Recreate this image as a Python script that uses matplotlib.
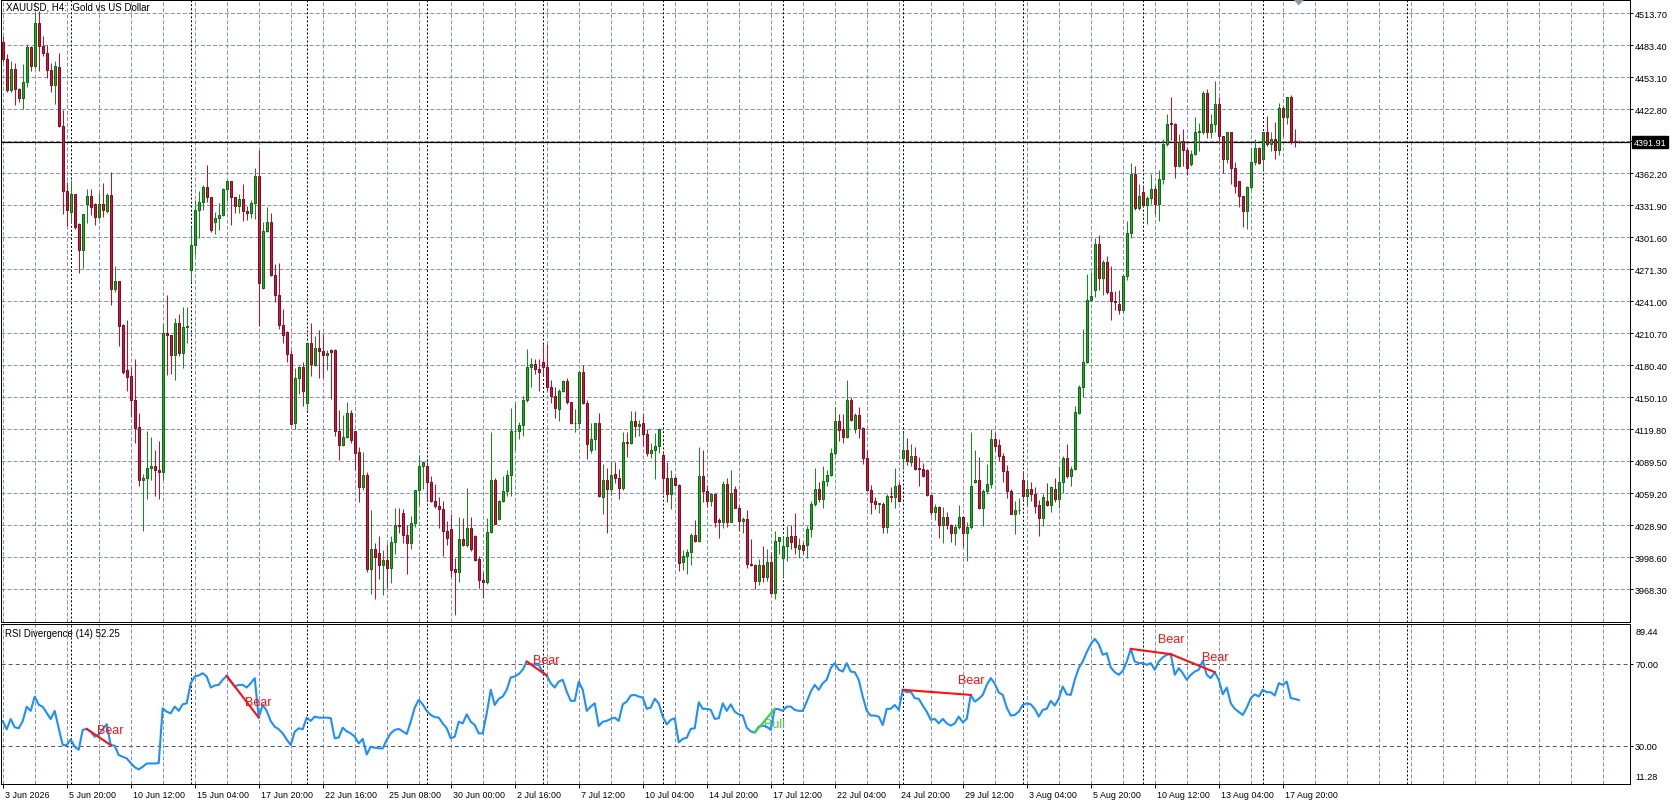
import numpy as np
import matplotlib
matplotlib.use("Agg")
import matplotlib.pyplot as plt
from matplotlib.transforms import blended_transform_factory

# XAUUSD H4 candles, bar 0 = 3 Jun 2026 04:00 ... last bar = 18 Aug 12:00
opens = [
    4487, 4471, 4441, 4461, 4442, 4434, 4449, 4482, 4464, 4505,
    4483, 4476, 4460, 4446, 4463, 4407, 4346, 4326, 4343, 4314,
    4290, 4333, 4341, 4333, 4321, 4333, 4327, 4342, 4253, 4260,
    4219, 4176, 4170, 4148, 4122, 4072, 4074, 4083, 4085, 4081,
    4079, 4211, 4209, 4190, 4221, 4192, 4217, 4271, 4294, 4328,
    4335, 4349, 4340, 4316, 4320, 4323, 4347, 4355, 4340, 4331,
    4338, 4327, 4325, 4334, 4360, 4254, 4308, 4316, 4266, 4247,
    4219, 4212, 4191, 4126, 4168, 4179, 4145, 4202, 4181, 4197,
    4194, 4190, 4195, 4195, 4118, 4105, 4113, 4135, 4118, 4098,
    4065, 4077, 3988, 4007, 4003, 3991, 3996, 3989, 4013, 4029,
    4041, 4020, 4012, 4031, 4062, 4085, 4085, 4070, 4052, 4047,
    4044, 4024, 4025, 3988, 3985, 4016, 4010, 4026, 4019, 3997,
    3977, 3975, 4023, 4072, 4035, 4052, 4061, 4077, 4118, 4118,
    4124, 4148, 4179, 4182, 4177, 4184, 4179, 4160, 4151, 4139,
    4156, 4166, 4146, 4126, 4126, 4174, 4145, 4100, 4111, 4126,
    4056, 4072, 4063, 4078, 4074, 4064, 4108, 4107, 4128, 4123,
    4126, 4115, 4097, 4100, 4104, 4096, 4074, 4059, 4074, 4067,
    3994, 4000, 4004, 4020, 4014, 4076, 4061, 4052, 4059, 4034,
    4032, 4068, 4032, 4063, 4045, 4033, 4035, 3992, 3991, 3976,
    3991, 3980, 3994, 3965, 4014, 3998, 4009, 4019, 4019, 4007,
    4010, 4010, 4025, 4049, 4063, 4054, 4071, 4077, 4097, 4128,
    4120, 4113, 4148, 4120, 4133, 4121, 4093, 4062, 4052, 4049,
    4049, 4027, 4057, 4056, 4067, 4093, 4100, 4089, 4095, 4083,
    4082, 4081, 4058, 4042, 4046, 4029, 4037, 4029, 4022, 4027,
    4037, 4022, 4027, 4070, 4072, 4045, 4061, 4068, 4111, 4105,
    4095, 4080, 4061, 4040, 4043, 4072, 4057, 4063, 4059, 4048,
    4036, 4052, 4048, 4063, 4054, 4070, 4093, 4076, 4082, 4135,
    4160, 4184, 4242, 4252, 4295, 4263, 4278, 4250, 4241, 4239,
    4233, 4265, 4306, 4362, 4329, 4345, 4332, 4339, 4347, 4333,
    4357, 4390, 4410, 4409, 4369, 4393, 4384, 4371, 4381, 4401,
    4401, 4438, 4401, 4409, 4428, 4398, 4376, 4401, 4367, 4355,
    4341, 4327, 4349, 4373, 4386, 4376, 4401, 4390, 4395, 4384,
    4424, 4416, 4435, 4393, 4392,
]
highs = [
    4492, 4475, 4469, 4467, 4443, 4466, 4485, 4483, 4515, 4516,
    4492, 4484, 4467, 4469, 4476, 4422, 4354, 4356, 4343, 4315,
    4324, 4347, 4347, 4334, 4344, 4353, 4344, 4364, 4275, 4260,
    4220, 4223, 4179, 4186, 4135, 4078, 4118, 4113, 4100, 4109,
    4220, 4247, 4209, 4225, 4229, 4236, 4236, 4311, 4337, 4346,
    4351, 4370, 4340, 4326, 4334, 4348, 4356, 4355, 4340, 4343,
    4352, 4331, 4337, 4367, 4384, 4316, 4330, 4325, 4276, 4277,
    4234, 4213, 4195, 4178, 4180, 4184, 4202, 4221, 4208, 4214,
    4210, 4195, 4196, 4196, 4138, 4133, 4146, 4138, 4118, 4103,
    4098, 4079, 4043, 4012, 4019, 4006, 4011, 4019, 4045, 4045,
    4044, 4029, 4038, 4062, 4096, 4090, 4089, 4076, 4068, 4056,
    4052, 4033, 4040, 3998, 4037, 4036, 4064, 4037, 4020, 4000,
    3985, 4036, 4117, 4074, 4053, 4076, 4081, 4140, 4145, 4127,
    4151, 4196, 4187, 4186, 4186, 4201, 4201, 4167, 4160, 4158,
    4167, 4168, 4146, 4139, 4176, 4181, 4148, 4126, 4126, 4135,
    4087, 4083, 4090, 4089, 4082, 4117, 4117, 4137, 4137, 4129,
    4134, 4120, 4107, 4116, 4121, 4097, 4089, 4081, 4076, 4068,
    4006, 4007, 4022, 4034, 4103, 4100, 4067, 4060, 4060, 4036,
    4071, 4074, 4081, 4066, 4048, 4037, 4043, 4016, 3992, 3997,
    4009, 4007, 4004, 4024, 4018, 4019, 4028, 4029, 4041, 4017,
    4013, 4028, 4052, 4083, 4070, 4085, 4081, 4102, 4141, 4134,
    4134, 4167, 4150, 4135, 4141, 4122, 4100, 4067, 4056, 4050,
    4051, 4059, 4065, 4083, 4070, 4117, 4112, 4106, 4103, 4094,
    4088, 4082, 4058, 4049, 4047, 4046, 4042, 4030, 4030, 4048,
    4038, 4032, 4117, 4100, 4094, 4063, 4087, 4120, 4117, 4111,
    4097, 4086, 4063, 4052, 4055, 4080, 4072, 4070, 4065, 4053,
    4059, 4069, 4066, 4074, 4085, 4095, 4106, 4085, 4142, 4162,
    4215, 4267, 4269, 4301, 4304, 4280, 4284, 4275, 4251, 4252,
    4267, 4317, 4372, 4369, 4352, 4350, 4341, 4362, 4351, 4365,
    4395, 4418, 4435, 4410, 4400, 4404, 4387, 4384, 4416, 4410,
    4440, 4442, 4418, 4450, 4435, 4398, 4401, 4401, 4373, 4355,
    4341, 4350, 4386, 4395, 4387, 4401, 4417, 4401, 4411, 4429,
    4426, 4435, 4436, 4404, 4394,
]
lows = [
    4468, 4439, 4439, 4427, 4430, 4423, 4444, 4459, 4462, 4459,
    4473, 4453, 4439, 4428, 4406, 4324, 4312, 4315, 4310, 4268,
    4273, 4315, 4323, 4313, 4319, 4321, 4325, 4238, 4250, 4199,
    4172, 4156, 4132, 4107, 4066, 4024, 4054, 4072, 4057, 4054,
    4072, 4171, 4172, 4167, 4189, 4178, 4202, 4259, 4285, 4301,
    4328, 4335, 4307, 4305, 4309, 4322, 4336, 4313, 4325, 4325,
    4317, 4318, 4320, 4319, 4218, 4253, 4307, 4265, 4240, 4215,
    4202, 4184, 4125, 4120, 4153, 4142, 4137, 4170, 4180, 4168,
    4168, 4176, 4149, 4114, 4091, 4104, 4112, 4107, 4081, 4051,
    4062, 3985, 3964, 3959, 3978, 3963, 3970, 3974, 4002, 4022,
    4012, 3983, 4007, 4027, 4048, 4063, 4053, 4051, 4045, 4026,
    4000, 4010, 3980, 3944, 3975, 4009, 4008, 4005, 3995, 3970,
    3960, 3973, 4022, 4030, 4034, 4051, 4057, 4057, 4100, 4111,
    4114, 4146, 4160, 4172, 4156, 4171, 4156, 4145, 4131, 4128,
    4155, 4144, 4125, 4117, 4121, 4144, 4092, 4097, 4100, 4056,
    4040, 4022, 4058, 4069, 4054, 4062, 4094, 4106, 4113, 4114,
    4104, 4095, 4093, 4073, 4097, 4059, 4051, 4044, 4067, 3986,
    3987, 3983, 3991, 4013, 4013, 4051, 4046, 4047, 4027, 4017,
    4026, 4027, 4032, 4045, 4024, 4022, 3989, 3990, 3969, 3972,
    3975, 3976, 3964, 3959, 4002, 3980, 3995, 4007, 4002, 3998,
    4002, 3998, 4018, 4047, 4051, 4045, 4066, 4076, 4096, 4109,
    4107, 4112, 4128, 4116, 4112, 4087, 4061, 4040, 4044, 4041,
    4022, 4022, 4051, 4045, 4051, 4082, 4086, 4085, 4081, 4066,
    4075, 4057, 4039, 4034, 4017, 4012, 4025, 4013, 4010, 4025,
    4008, 3995, 4025, 4069, 4044, 4028, 4059, 4064, 4099, 4090,
    4070, 4055, 4040, 4021, 4040, 4054, 4047, 4052, 4041, 4019,
    4028, 4047, 4042, 4051, 4045, 4060, 4074, 4066, 4081, 4134,
    4150, 4183, 4241, 4245, 4252, 4247, 4248, 4223, 4233, 4229,
    4230, 4261, 4301, 4328, 4328, 4330, 4314, 4333, 4324, 4317,
    4352, 4388, 4394, 4358, 4368, 4369, 4361, 4369, 4380, 4383,
    4400, 4396, 4396, 4401, 4391, 4363, 4372, 4352, 4344, 4330,
    4311, 4310, 4347, 4370, 4371, 4365, 4388, 4383, 4376, 4380,
    4398, 4409, 4390, 4387, 4391,
]
closes = [
    4471, 4441, 4461, 4442, 4434, 4449, 4482, 4464, 4505, 4483,
    4476, 4460, 4446, 4464, 4407, 4346, 4328, 4343, 4311, 4290,
    4324, 4341, 4330, 4321, 4333, 4328, 4342, 4253, 4260, 4218,
    4174, 4169, 4148, 4121, 4072, 4074, 4083, 4085, 4081, 4079,
    4211, 4209, 4190, 4221, 4192, 4217, 4218, 4294, 4328, 4335,
    4349, 4340, 4309, 4320, 4323, 4347, 4355, 4340, 4331, 4338,
    4327, 4325, 4334, 4360, 4258, 4308, 4316, 4266, 4247, 4219,
    4209, 4191, 4125, 4168, 4179, 4156, 4202, 4182, 4197, 4194,
    4190, 4192, 4193, 4118, 4105, 4113, 4135, 4110, 4097, 4065,
    4077, 3988, 4007, 3999, 3991, 3996, 3989, 4013, 4029, 4028,
    4020, 4012, 4031, 4062, 4085, 4089, 4070, 4052, 4047, 4044,
    4024, 4017, 3987, 3985, 4016, 4010, 4026, 4007, 3996, 3977,
    3975, 4023, 4072, 4030, 4052, 4061, 4077, 4118, 4118, 4124,
    4148, 4179, 4182, 4177, 4174, 4179, 4160, 4151, 4140, 4156,
    4166, 4146, 4126, 4126, 4174, 4145, 4106, 4111, 4126, 4057,
    4072, 4063, 4077, 4074, 4064, 4108, 4107, 4128, 4123, 4125,
    4115, 4097, 4100, 4104, 4120, 4074, 4059, 4074, 4067, 3993,
    4000, 4004, 4020, 4014, 4076, 4061, 4052, 4059, 4032, 4032,
    4068, 4032, 4060, 4045, 4033, 4035, 3992, 3991, 3976, 3991,
    3980, 3994, 3965, 4014, 4018, 4009, 4018, 4013, 4008, 4010,
    4006, 4025, 4049, 4063, 4054, 4071, 4077, 4097, 4128, 4119,
    4113, 4148, 4129, 4133, 4121, 4093, 4062, 4051, 4049, 4050,
    4027, 4057, 4056, 4066, 4052, 4100, 4090, 4095, 4082, 4082,
    4076, 4058, 4042, 4046, 4029, 4037, 4029, 4022, 4027, 4037,
    4022, 4027, 4066, 4072, 4045, 4061, 4068, 4111, 4104, 4095,
    4080, 4061, 4040, 4043, 4043, 4057, 4063, 4059, 4047, 4036,
    4056, 4048, 4065, 4054, 4070, 4093, 4076, 4082, 4136, 4160,
    4184, 4242, 4246, 4295, 4263, 4278, 4250, 4241, 4240, 4233,
    4265, 4306, 4362, 4329, 4341, 4332, 4339, 4347, 4333, 4357,
    4390, 4409, 4409, 4369, 4392, 4384, 4367, 4381, 4401, 4402,
    4438, 4401, 4409, 4428, 4398, 4376, 4401, 4367, 4350, 4341,
    4327, 4349, 4373, 4386, 4372, 4401, 4390, 4395, 4384, 4424,
    4416, 4435, 4392, 4392, 4391.91,
]

# RSI(14), one value per bar
rsi = [
    42, 38, 43, 39, 38.5, 42, 49, 47, 54, 50,
    49, 46, 43, 47, 38.5, 30.3, 30.3, 33, 29.5, 28,
    37.7, 38.2, 36.8, 34.4, 35.5, 38, 40.5, 30.3, 30, 25.4,
    24.6, 23.8, 21.5, 19.5, 18.4, 19.7, 21.3, 21.3, 21.3, 21.5,
    48.3, 46.6, 45.8, 49.1, 47, 50.2, 50.7, 60.5, 63.8, 64.3,
    65.4, 63.8, 58.4, 59.4, 59.7, 62.2, 64.1, 61.3, 58.9, 59.7,
    59.7, 58.4, 60.5, 63, 43.7, 50, 47, 42, 39.3, 38,
    36, 33, 30.3, 36.8, 38.5, 38, 43.7, 42.1, 44.2, 43.7,
    43.7, 43.7, 43.5, 33.6, 34, 38.8, 37, 36, 34.4, 31.1,
    33.3, 25.7, 29.5, 29, 28.7, 28.7, 32.8, 36, 37.7, 38.2,
    37, 35.7, 41.7, 48.6, 52.4, 50.2, 47, 45, 44, 43.7,
    40.9, 38.5, 33.6, 34.4, 41.7, 40.9, 45.3, 41.7, 40.1, 36,
    36, 45.8, 57.3, 49.9, 52.9, 54, 57.3, 63.3, 63.8, 65,
    67.1, 71.1, 69.8, 69.6, 69.5, 65.9, 64.3, 60.5, 58.4, 61.3,
    62.2, 56.4, 51.9, 51.9, 61.3, 57.3, 47, 49.1, 50.7, 39.6,
    41.7, 42.1, 43.1, 43.7, 42.1, 50.2, 51.5, 54.5, 54.8, 54,
    53.5, 48, 48.6, 52.9, 50.7, 44.2, 40.4, 42.6, 43.4, 31.6,
    33.3, 33.9, 38.2, 38.5, 51.2, 48, 48, 47.5, 43.1, 43.4,
    50.7, 47, 50.2, 46.6, 45.3, 44.7, 38.8, 37, 36.4, 39.3,
    39.8, 39.3, 37.7, 48, 47.8, 47, 49.1, 49.1, 47.5, 47,
    47, 51.5, 56.4, 59.7, 57.3, 60.5, 62.2, 67.9, 70.3, 67.1,
    66.2, 70.3, 66.2, 65.9, 62.2, 54, 47, 44.7, 44.7, 44.2,
    40.1, 48, 48, 49.9, 47.5, 57.3, 56.1, 56.4, 53.2, 52.9,
    49.6, 46.6, 42.6, 43.1, 40.9, 43.1, 40.9, 39.8, 40.9, 44.2,
    41.4, 43.1, 54.8, 51.5, 52.9, 54.8, 59.7, 63, 60.3, 56,
    54.8, 48.6, 44.7, 45, 46.6, 49.9, 50.7, 50.2, 48, 44.2,
    47.5, 48, 51.9, 49.6, 52.9, 58.9, 55.1, 54.8, 62.2, 67.9,
    71.1, 75.7, 79.6, 82.2, 79.6, 74.4, 75.2, 68.2, 65.9, 64.6,
    66.6, 71.1, 77.3, 71.1, 70.3, 70.3, 69.5, 70.3, 67.1, 71.1,
    73.1, 74.4, 74.7, 64.6, 67.9, 65.4, 62.2, 64.6, 66.2, 67.1,
    71.5, 64.6, 63, 65.9, 62.2, 55.1, 58.4, 50.7, 48, 46.5,
    45, 48.6, 53.2, 55.1, 54, 57.3, 56.1, 56.1, 54.5, 60.5,
    59.7, 61.3, 53.2, 52.9, 52.25,
]

last_price = 4391.91

# divergences drawn by the indicator (start bar, end bar)
div_kind = ['Bear', 'Bear', 'Bear', 'Bull', 'Bear', 'Bear', 'Bear']
div_from = [21, 56, 131, 188, 225, 282, 292]
div_to = [27, 64, 136, 193, 242, 292, 303]

# Monday 00:00 bars (period separators), last one sits in the empty right margin
week_starts = [17, 47, 76, 106, 135, 165, 195, 225, 255, 285, 315, 351]

# one time label every 16 bars
time_labels = ['3 Jun 2026', '5 Jun 20:00', '10 Jun 12:00', '15 Jun 04:00',
               '17 Jun 20:00', '22 Jun 16:00', '25 Jun 08:00', '30 Jun 00:00',
               '2 Jul 16:00', '7 Jul 12:00', '10 Jul 04:00', '14 Jul 20:00',
               '17 Jul 12:00', '22 Jul 04:00', '24 Jul 20:00', '29 Jul 12:00',
               '3 Aug 04:00', '5 Aug 20:00', '10 Aug 12:00', '13 Aug 04:00',
               '17 Aug 20:00']

price_levels = [4513.70, 4483.40, 4453.10, 4422.80, 4392.50, 4362.20, 4331.90,
                4301.60, 4271.30, 4241.00, 4210.70, 4180.40, 4150.10, 4119.80,
                4089.50, 4059.20, 4028.90, 3998.60, 3968.30]

plt.rcParams['font.family'] = ['Liberation Sans', 'DejaVu Sans']
plt.rcParams['lines.scale_dashes'] = False

W, H = 1676, 803
PX = 0.72  # one pixel in points

fig = plt.figure(figsize=(W / 100, H / 100), dpi=100)
ax = fig.add_axes([1 / W, 180 / H, 1629 / W, 622.5 / H])
ax2 = fig.add_axes([1 / W, 18 / H, 1629 / W, 160 / H])

o = np.array(opens, float)
h = np.array(highs, float)
l = np.array(lows, float)
c = np.array(closes, float)
r = np.array(rsi, float)
x = np.arange(len(c))

grid_c = '#8797ad'
grid_ls = (0, (2.9, 1.45))
sep_ls = (0, (1.45, 1.45))
ylo, yhi = 3937.4, 4526.9

for a in (ax, ax2):
    a.set_xlim(-0.425, 406.8)
    for b in range(0, 401, 8):
        a.axvline(b, color=grid_c, lw=PX, ls=grid_ls, zorder=0.5)
    for b in week_starts:
        a.axvline(b, color='black', lw=PX, ls=sep_ls, zorder=0.6)
    for s in a.spines.values():
        s.set_linewidth(PX)
        s.set_color('black')

# main price panel
ax.set_ylim(ylo, yhi)
for p in price_levels:
    ax.axhline(p, color=grid_c, lw=PX, ls=grid_ls, zorder=0.5)
ax.axhline(last_price, color='black', lw=0.9, zorder=1)

up = c >= o
dn = ~up
ax.vlines(x[up], l[up], h[up], color='#12901a', lw=PX, zorder=2)
ax.vlines(x[dn], l[dn], h[dn], color='#c8102e', lw=PX, zorder=2)
ax.bar(x[up], c[up] - o[up], bottom=o[up], width=0.55, color='#22a82a',
       edgecolor='#0a6e0f', lw=PX, zorder=3)
ax.bar(x[dn], o[dn] - c[dn], bottom=c[dn], width=0.55, color='#d4153a',
       edgecolor='#8a0a20', lw=PX, zorder=3)

ax.yaxis.tick_right()
ax.set_yticks(price_levels)
ax.set_yticklabels(['' if abs(p - last_price) < 5 else f'{p:.2f}' for p in price_levels])
ax.tick_params(axis='y', direction='out', length=2.2, width=PX, pad=1.5, labelsize=6.6)
ax.tick_params(axis='x', bottom=False, labelbottom=False)

tr = blended_transform_factory(ax.transAxes, ax.transData)
ax.text(1.0 + 3.5 / 1629, last_price, f'{last_price:.2f}', transform=tr,
        ha='left', va='center', fontsize=6.6, color='white', clip_on=False,
        bbox=dict(boxstyle='square,pad=0.2', fc='black', ec='black'), zorder=10)

ax.text(5 / 1629, 1 - 7.5 / 622.5, 'XAUUSD, H4:  Gold vs US Dollar',
        transform=ax.transAxes, fontsize=7, ha='left', va='center')

# chart shift marker above the last bar
tri_x = [x[-1] - 1.1, x[-1] + 1.1, x[-1]]
tri_y = [yhi, yhi, yhi - 5 * (yhi - ylo) / 622.5]
ax.fill(tri_x, tri_y, color='#8c98a8', zorder=6)

# RSI panel
ax2.set_ylim(11.28, 89.44)
for lvl in (70, 30):
    ax2.axhline(lvl, color='#5c5c5c', lw=PX, ls=(0, (2.9, 2.2)), zorder=0.7)
ax2.plot(x, r, color='#1e8fff', lw=1.5, zorder=3)

for kind, s, e in zip(div_kind, div_from, div_to):
    col = '#ff1010' if kind == 'Bear' else '#3fcf3f'
    ax2.plot([s, e], [r[s], r[e]], color=col, lw=1.5, zorder=4)
    ax2.annotate(kind, (e, r[e]), xytext=(0, 11 if kind == 'Bear' else -11),
                 textcoords='offset points', ha='center', va='center',
                 fontsize=9, color=col, zorder=5 if kind == 'Bear' else 2)

ax2.text(4 / 1629, 1 - 9 / 160, f'RSI Divergence (14) {r[-1]:.2f}',
         transform=ax2.transAxes, fontsize=7, ha='left', va='center')

ax2.yaxis.tick_right()
ax2.set_yticks([70, 30])
ax2.set_yticklabels(['70.00', '30.00'])
ax2.tick_params(axis='y', direction='out', length=2.2, width=PX, pad=1.5, labelsize=6.6)
tr2 = blended_transform_factory(ax2.transAxes, ax2.transData)
ax2.annotate('89.44', xy=(1, 89.44), xycoords=tr2, xytext=(3.7, -2),
             textcoords='offset points', ha='left', va='top', fontsize=6.6,
             annotation_clip=False)
ax2.annotate('11.28', xy=(1, 11.28), xycoords=tr2, xytext=(3.7, 2),
             textcoords='offset points', ha='left', va='bottom', fontsize=6.6,
             annotation_clip=False)

label_bars = [16 * k for k in range(len(time_labels))]
ax2.set_xticks(label_bars)
ax2.tick_params(axis='x', direction='out', length=3, width=PX, labelbottom=False)
trx = blended_transform_factory(ax2.transData, ax2.transAxes)
for b, t in zip(label_bars, time_labels):
    ax2.annotate(t, xy=(b, 0), xycoords=trx, xytext=(1.4, -4),
                 textcoords='offset points', ha='left', va='top',
                 fontsize=6.4, annotation_clip=False)

fig.savefig('out.png', dpi=100)
